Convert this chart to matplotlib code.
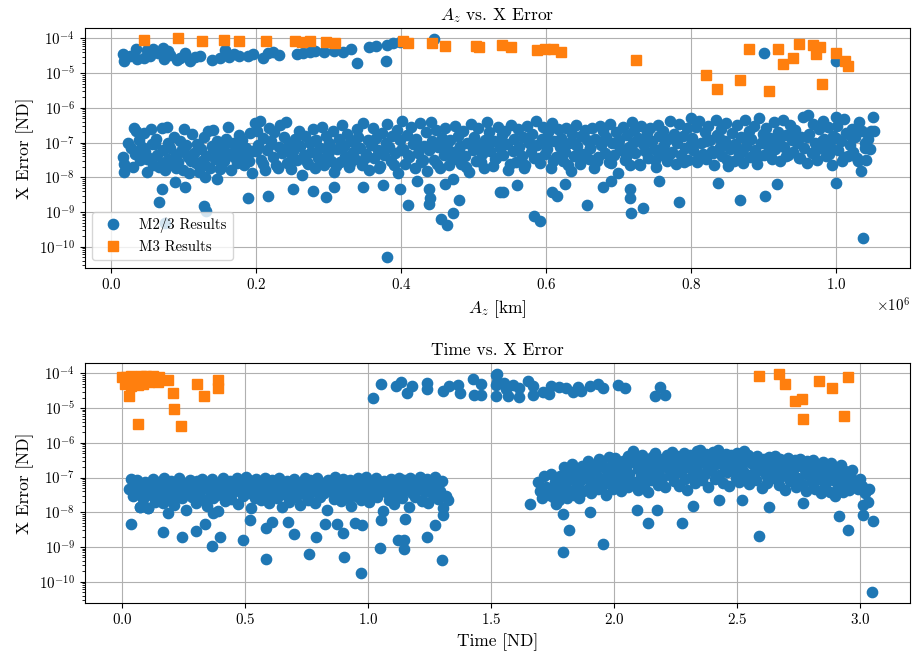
import numpy as np
import matplotlib
matplotlib.use("Agg")
import matplotlib.pyplot as plt

plt.rcParams["font.family"] = "serif"
plt.rcParams["font.serif"] = ["cmr10"]
plt.rcParams["mathtext.fontset"] = "cm"
plt.rcParams["axes.formatter.use_mathtext"] = True
plt.rcParams["axes.unicode_minus"] = False
plt.rcParams["xtick.labelsize"] = 10.8
plt.rcParams["ytick.labelsize"] = 10.8
plt.rcParams["axes.labelsize"] = 12.5
plt.rcParams["axes.titlesize"] = 12.6
plt.rcParams["legend.fontsize"] = 10.6

# ---- M2/3 results: A_z [km] and X error ----
# upper band (large-error runs)
az_m23_band = [17e3, 18e3, 26e3, 35e3, 36e3, 45e3, 49e3, 54e3, 58e3, 65e3,
               72e3, 73e3, 78e3, 81e3, 91e3, 95e3, 102e3, 109e3, 116e3, 123e3,
               139e3, 150e3, 157e3, 162e3, 169e3, 177e3, 189e3, 196e3, 210e3, 217e3,
               224e3, 232e3, 256e3, 265e3, 274e3, 281e3, 293e3, 307e3, 320e3, 331e3,
               339e3, 356e3, 366e3, 379e3, 380e3, 389e3, 399e3, 446e3, 900e3, 999e3]
err_m23_band = [3.5e-5, 2.2e-5, 3.2e-5, 4.9e-5, 2.5e-5, 2.8e-5, 4.6e-5, 3.1e-5, 5.1e-5, 3.7e-5,
                5.4e-5, 2.6e-5, 4.3e-5, 3.3e-5, 2.4e-5, 2.8e-5, 3.7e-5, 2.2e-5, 3.0e-5, 3.2e-5,
                2.4e-5, 2.8e-5, 4.6e-5, 3.0e-5, 3.5e-5, 3.2e-5, 3.2e-5, 3.5e-5, 2.8e-5, 3.7e-5,
                4.2e-5, 3.3e-5, 3.5e-5, 3.7e-5, 4.2e-5, 4.3e-5, 4.0e-5, 4.3e-5, 4.0e-5, 5.1e-5,
                2.0e-5, 5.7e-5, 6.1e-5, 2.3e-5, 6.4e-5, 7.2e-5, 8.0e-5, 9.6e-5, 3.9e-5, 2.3e-5]

# main cloud
az_m23_cloud = [
    17e3, 18e3, 18e3, 24e3, 27e3, 31e3, 34e3, 33e3, 38e3, 40e3,
    43e3, 45e3, 47e3, 50e3, 52e3, 55e3, 57e3, 58e3,
    62e3, 64e3, 66e3, 70e3, 72e3, 74e3, 77e3, 79e3, 79e3,
    82e3, 85e3, 87e3, 89e3, 92e3, 95e3, 97e3, 99e3,
    101e3, 104e3, 106e3, 108e3, 111e3, 114e3, 117e3, 119e3,
    121e3, 124e3, 126e3, 128e3, 131e3, 134e3, 136e3, 139e3,
    141e3, 143e3, 146e3, 149e3, 151e3, 154e3, 156e3, 159e3,
    161e3, 163e3, 166e3, 168e3, 171e3, 174e3, 176e3, 179e3,
    181e3, 183e3, 186e3, 188e3, 191e3, 194e3, 196e3, 199e3,
    201e3, 203e3, 205e3, 207e3, 210e3, 212e3, 215e3, 218e3,
    221e3, 223e3, 225e3, 228e3, 231e3, 233e3, 236e3, 239e3,
    241e3, 243e3, 246e3, 248e3, 251e3, 254e3, 256e3, 259e3,
    261e3, 263e3, 266e3, 268e3, 271e3, 274e3, 276e3, 279e3,
    281e3, 283e3, 286e3, 288e3, 291e3, 294e3, 296e3, 299e3,
    301e3, 303e3, 306e3, 308e3, 311e3, 314e3, 316e3, 319e3,
    321e3, 323e3, 326e3, 328e3, 331e3, 334e3, 336e3, 339e3,
    341e3, 343e3, 346e3, 348e3, 351e3, 354e3, 356e3, 359e3,
    361e3, 363e3, 366e3, 368e3, 371e3, 374e3, 376e3, 379e3,
    381e3, 383e3, 386e3, 388e3, 391e3, 394e3, 396e3, 399e3,
    401e3, 403e3, 406e3, 408e3, 411e3, 414e3, 416e3, 419e3,
    421e3, 423e3, 426e3, 428e3, 431e3, 434e3, 436e3, 439e3,
    441e3, 443e3, 446e3, 448e3, 451e3, 454e3, 456e3, 459e3,
    461e3, 463e3, 466e3, 468e3, 471e3, 474e3, 476e3, 479e3,
    481e3, 483e3, 486e3, 488e3, 491e3, 494e3, 496e3, 499e3,
    501e3, 503e3, 506e3, 508e3, 511e3, 514e3, 516e3, 519e3,
    521e3, 523e3, 526e3, 528e3, 531e3, 534e3, 536e3, 539e3,
    541e3, 543e3, 546e3, 548e3, 551e3, 554e3, 556e3, 559e3,
    561e3, 563e3, 566e3, 568e3, 571e3, 574e3, 576e3, 579e3,
    581e3, 583e3, 586e3, 588e3, 591e3, 594e3, 596e3, 599e3,
    601e3, 603e3, 606e3, 608e3, 611e3, 614e3, 616e3, 619e3,
    621e3, 623e3, 626e3, 628e3, 631e3, 634e3, 636e3, 639e3,
    641e3, 643e3, 646e3, 648e3, 651e3, 654e3, 656e3, 659e3,
    661e3, 663e3, 666e3, 668e3, 671e3, 674e3, 676e3, 679e3,
    681e3, 683e3, 686e3, 688e3, 691e3, 694e3, 696e3, 699e3,
    701e3, 703e3, 706e3, 708e3, 711e3, 714e3, 716e3, 719e3,
    721e3, 723e3, 726e3, 728e3, 731e3, 734e3, 736e3, 739e3,
    741e3, 743e3, 746e3, 748e3, 751e3, 754e3, 756e3, 759e3,
    761e3, 763e3, 766e3, 768e3, 771e3, 774e3, 776e3, 779e3,
    781e3, 783e3, 786e3, 788e3, 791e3, 794e3, 796e3, 799e3,
    801e3, 803e3, 806e3, 808e3, 811e3, 814e3, 816e3, 819e3,
    821e3, 823e3, 826e3, 828e3, 831e3, 834e3, 836e3, 839e3,
    841e3, 843e3, 846e3, 848e3, 851e3, 854e3, 856e3, 859e3,
    861e3, 863e3, 866e3, 868e3, 871e3, 874e3, 876e3, 879e3,
    881e3, 883e3, 886e3, 888e3, 891e3, 894e3, 896e3, 899e3,
    901e3, 903e3, 906e3, 908e3, 911e3, 914e3, 916e3, 919e3,
    921e3, 923e3, 926e3, 928e3, 931e3, 934e3, 936e3, 939e3,
    941e3, 943e3, 946e3, 948e3, 951e3, 954e3, 956e3, 959e3,
    961e3, 963e3, 966e3, 968e3, 971e3, 974e3, 976e3, 979e3,
    981e3, 983e3, 986e3, 988e3, 991e3, 994e3, 996e3, 999e3,
    1001e3, 1003e3, 1006e3, 1008e3, 1011e3, 1014e3, 1016e3, 1019e3,
    1021e3, 1023e3, 1026e3, 1028e3, 1031e3, 1034e3, 1036e3, 1039e3,
    1041e3, 1044e3, 1046e3, 1048e3, 1051e3, 1052e3,
]
err_m23_cloud = [
    3.9e-8, 2.5e-8, 1.4e-8, 9.5e-8, 6.8e-8, 2.7e-7, 2.1e-7, 4.6e-8, 1.2e-7, 3.1e-8,
    7.5e-8, 1.9e-7, 5.2e-8, 1.4e-8, 3.6e-8, 2.4e-7, 9.0e-8, 2.2e-8,
    1.3e-7, 4.4e-8, 2.0e-8, 2.6e-7, 6.1e-8, 1.6e-8, 2.9e-7, 1.0e-7, 3.3e-8,
    7.2e-8, 2.2e-8, 1.5e-7, 4.5e-8, 2.7e-8, 1.1e-7, 5.7e-8, 1.6e-8,
    2.4e-7, 8.4e-8, 3.8e-8, 1.3e-8, 1.8e-7, 5.0e-8, 2.6e-8, 9.2e-8,
    1.4e-8, 6.6e-8, 2.9e-8, 1.5e-7, 4.2e-8, 2.2e-7, 1.9e-8, 8.0e-8,
    2.3e-7, 3.4e-8, 1.1e-7, 5.4e-8, 2.0e-8, 7.7e-8, 3.0e-8, 1.3e-7,
    2.8e-7, 4.7e-8, 1.6e-8, 9.8e-8, 6.0e-8, 2.6e-8, 1.7e-7, 4.0e-8,
    1.2e-7, 2.3e-8, 7.0e-8, 3.5e-8, 1.9e-7, 1.3e-8, 5.6e-8, 3.6e-7,
    2.1e-7, 8.7e-8, 4.3e-7, 3.1e-8, 1.4e-7, 1.6e-8, 6.2e-8, 2.7e-7,
    1.1e-7, 3.9e-8, 2.0e-7, 2.2e-8, 7.4e-8, 3.3e-7, 4.9e-8, 1.5e-7,
    3.9e-7, 2.6e-8, 9.0e-8, 1.7e-8, 5.8e-8, 1.3e-7, 3.2e-8, 2.2e-7,
    7.9e-8, 1.2e-8, 4.4e-8, 1.6e-7, 2.5e-8, 9.6e-8, 5.3e-8, 2.4e-7,
    1.9e-8, 1.2e-7, 3.7e-8, 6.9e-8, 2.8e-7, 2.3e-8, 1.6e-7, 4.6e-8,
    1.0e-7, 3.0e-8, 2.1e-7, 1.4e-8, 6.4e-8, 1.3e-7, 2.7e-8, 3.2e-7,
    8.2e-8, 4.1e-8, 1.8e-7, 2.0e-8, 1.1e-7, 5.5e-8, 3.3e-8, 2.5e-7,
    1.5e-7, 7.1e-8, 2.3e-8, 3.6e-7, 4.8e-8, 1.2e-7, 1.6e-8, 8.8e-8,
    2.6e-7, 3.5e-8, 1.4e-7, 6.3e-8, 2.1e-8, 1.9e-7, 4.3e-8, 1.0e-7,
    3.4e-7, 7.6e-8, 2.9e-8, 1.6e-7, 5.1e-8, 2.3e-7, 1.3e-8, 1.2e-7,
    4.1e-7, 6.7e-8, 2.4e-8, 1.7e-7, 3.9e-8, 2.9e-7, 9.3e-8, 1.8e-8,
    1.3e-7, 5.0e-8, 3.7e-7, 2.7e-8, 8.1e-8, 2.0e-7, 1.5e-8, 6.0e-8,
    4.0e-7, 1.1e-7, 3.2e-8, 2.3e-7, 7.3e-8, 1.9e-8, 1.4e-7, 4.5e-8,
    2.6e-7, 9.0e-8, 2.2e-8, 1.2e-7, 5.2e-8, 3.1e-7, 3.4e-8, 1.6e-7,
    7.8e-8, 2.5e-8, 2.2e-7, 4.2e-8, 1.0e-7, 1.4e-8, 3.4e-7, 6.2e-8,
    1.5e-7, 3.0e-8, 2.6e-7, 8.5e-8, 4.7e-8, 1.8e-8, 1.2e-7, 3.9e-7,
    2.0e-7, 5.6e-8, 2.1e-8, 1.1e-7, 3.5e-8, 2.8e-7, 6.9e-8, 1.7e-7,
    4.3e-8, 2.2e-7, 9.4e-8, 1.6e-8, 3.3e-7, 5.9e-8, 1.3e-7, 2.8e-8,
    2.4e-7, 7.6e-8, 4.0e-8, 1.5e-7, 2.3e-8, 3.1e-7, 1.0e-7, 5.3e-8,
    1.8e-7, 3.6e-8, 4.1e-7, 8.3e-8, 2.6e-8, 1.3e-7, 2.9e-7, 4.8e-8,
    6.4e-8, 2.0e-7, 1.9e-8, 3.6e-7, 1.1e-7, 3.8e-8, 2.4e-7, 7.4e-8,
    1.4e-7, 2.9e-8, 5.5e-8, 2.7e-7, 1.0e-7, 1.5e-8, 1.8e-7, 4.1e-8,
    3.2e-7, 8.0e-8, 2.4e-8, 1.6e-7, 4.6e-8, 2.3e-7, 1.2e-7, 3.3e-8,
    6.8e-8, 2.6e-7, 1.9e-8, 1.3e-7, 3.9e-8, 3.0e-7, 8.6e-8, 2.1e-7,
    5.1e-8, 1.5e-7, 2.7e-8, 3.5e-7, 9.7e-8, 4.4e-8, 2.0e-7, 1.3e-8,
    1.2e-7, 6.1e-8, 2.9e-7, 3.1e-8, 1.7e-7, 7.7e-8, 2.2e-8, 3.8e-7,
    2.3e-7, 4.9e-8, 1.4e-7, 2.5e-8, 3.1e-7, 9.1e-8, 5.8e-8, 1.9e-7,
    3.6e-8, 2.6e-7, 1.1e-7, 6.6e-8, 2.0e-8, 3.3e-7, 1.6e-7, 4.3e-8,
    2.2e-7, 8.4e-8, 3.0e-8, 1.3e-7, 4.2e-7, 5.3e-8, 1.8e-7, 2.4e-8,
    1.0e-7, 3.5e-7, 4.5e-8, 1.6e-7, 7.0e-8, 2.7e-7, 3.2e-8, 5.0e-7,
    1.4e-7, 6.3e-8, 2.9e-7, 2.8e-8, 4.1e-7, 9.5e-8, 4.6e-8, 2.0e-7,
    3.4e-8, 3.0e-7, 1.2e-7, 5.7e-8, 2.3e-8, 4.4e-7, 1.7e-7, 7.3e-8,
    2.4e-7, 4.0e-8, 1.1e-7, 3.7e-7, 2.1e-8, 6.5e-8, 1.9e-7, 3.0e-8,
    8.8e-8, 3.2e-7, 4.8e-8, 1.5e-7, 2.6e-8, 4.6e-7, 7.9e-8, 2.2e-7,
    3.9e-8, 1.3e-7, 3.0e-7, 6.0e-8, 2.5e-8, 5.1e-7, 1.0e-7, 1.8e-7,
    4.4e-8, 2.7e-7, 8.2e-8, 1.4e-7, 3.4e-8, 3.9e-7, 6.4e-8, 2.0e-7,
    1.1e-7, 2.9e-8, 4.6e-7, 7.5e-8, 1.7e-7, 4.3e-8, 3.2e-7, 1.2e-7,
    5.5e-8, 2.3e-7, 9.6e-8, 3.7e-8, 1.5e-7, 5.3e-7, 6.8e-8, 2.6e-8,
    6.3e-7, 1.8e-7, 5.0e-8, 3.5e-7, 1.0e-7, 3.1e-8, 2.4e-7, 7.1e-8,
    4.1e-7, 1.3e-7, 4.2e-8, 2.8e-7, 8.0e-8, 2.2e-8, 1.6e-7, 5.4e-7,
    3.0e-7, 6.0e-8, 1.1e-7, 2.9e-8, 4.8e-7, 1.9e-7, 4.0e-8, 8.5e-8,
    2.5e-7, 5.2e-8, 1.5e-7, 3.5e-8, 3.9e-7, 1.5e-8, 2.1e-7, 7.0e-8,
    3.2e-8, 1.3e-7, 6.5e-8, 2.1e-7, 5.5e-7, 2.2e-7,
]

# denser middle of the cloud
az_m23_mid = [30e3, 50e3, 70e3, 90e3, 110e3, 130e3, 150e3, 170e3, 190e3, 210e3,
              230e3, 250e3, 270e3, 290e3, 310e3, 330e3, 350e3, 370e3, 390e3, 410e3,
              430e3, 450e3, 470e3, 490e3, 510e3, 530e3, 550e3, 570e3, 590e3, 610e3,
              630e3, 650e3, 670e3, 690e3, 710e3, 730e3, 750e3, 770e3, 790e3, 810e3,
              830e3, 850e3, 870e3, 890e3, 910e3, 930e3, 950e3, 970e3, 990e3, 1010e3,
              1030e3,
              40e3, 60e3, 80e3, 100e3, 120e3, 140e3, 160e3, 180e3, 200e3, 220e3,
              240e3, 260e3, 280e3, 300e3, 320e3, 340e3, 360e3, 380e3, 400e3, 420e3,
              440e3, 460e3, 480e3, 500e3, 520e3, 540e3, 560e3, 580e3, 600e3, 620e3,
              640e3, 660e3, 680e3, 700e3, 720e3, 740e3, 760e3, 780e3, 800e3, 820e3,
              840e3, 860e3, 880e3, 900e3, 920e3, 940e3, 960e3, 980e3, 1000e3, 1020e3,
              1040e3]
err_m23_mid = [2.0e-8, 3.4e-8, 2.6e-8, 1.8e-8, 3.0e-8, 2.2e-8, 1.7e-8, 3.8e-8, 2.9e-8, 2.4e-8,
               1.9e-8, 4.1e-8, 2.7e-8, 3.3e-8, 2.1e-8, 2.6e-8, 3.7e-8, 1.8e-8, 2.3e-8, 4.5e-8,
               3.1e-8, 2.5e-8, 3.9e-8, 2.0e-8, 2.8e-8, 3.4e-8, 2.4e-8, 1.9e-8, 3.6e-8, 2.9e-8,
               2.2e-8, 4.0e-8, 3.0e-8, 2.6e-8, 3.8e-8, 2.3e-8, 3.2e-8, 4.4e-8, 2.7e-8, 3.5e-8,
               4.9e-8, 3.1e-8, 5.2e-8, 3.6e-8, 5.5e-8, 4.2e-8, 3.7e-8, 5.8e-8, 4.6e-8, 3.9e-8,
               2.9e-8,
               6.0e-8, 9.0e-8, 7.6e-8, 5.4e-8, 8.4e-8, 6.6e-8, 1.0e-7, 7.0e-8, 5.8e-8, 9.4e-8,
               6.4e-8, 7.8e-8, 1.1e-7, 5.6e-8, 8.8e-8, 6.9e-8, 1.0e-7, 7.3e-8, 6.1e-8, 9.2e-8,
               7.0e-8, 8.2e-8, 6.5e-8, 1.05e-7, 7.4e-8, 9.6e-8, 6.3e-8, 8.6e-8, 1.1e-7, 7.7e-8,
               9.0e-8, 6.8e-8, 1.2e-7, 8.0e-8, 9.8e-8, 1.15e-7, 7.2e-8, 1.25e-7, 9.4e-8, 1.1e-7,
               1.3e-7, 8.9e-8, 1.2e-7, 1.4e-7, 1.0e-7, 1.3e-7, 1.5e-7, 1.1e-7, 1.35e-7, 1.6e-7,
               9.5e-8]

# low-error outliers
az_m23_low = [66e3, 70e3, 74e3, 88e3, 102e3, 128e3, 130e3, 131e3, 146e3, 189e3,
              216e3, 251e3, 279e3, 297e3, 308e3, 348e3, 375e3, 381e3, 398e3, 409e3,
              422e3, 438e3, 438e3, 440e3, 455e3, 460e3, 463e3, 471e3, 472e3, 480e3,
              536e3, 541e3, 560e3, 583e3, 591e3, 608e3, 615e3, 626e3, 656e3, 679e3,
              690e3, 716e3, 716e3, 717e3, 733e3, 755e3, 783e3, 837e3, 867e3, 902e3,
              918e3, 999e3, 1037e3]
err_m23_low = [2.0e-9, 4.7e-9, 4.9e-10, 7.4e-9, 5.2e-9, 1.5e-9, 1.0e-8, 1.1e-9, 8.7e-9, 2.5e-9,
               2.9e-9, 4.7e-9, 4.1e-9, 2.7e-9, 5.3e-9, 5.2e-9, 5.9e-9, 5.2e-11, 4.7e-9, 1.6e-9,
               7.6e-9, 4.7e-9, 1.7e-9, 2.5e-9, 6.2e-10, 6.6e-9, 4.3e-10, 9.1e-9, 9.6e-10, 2.2e-9,
               3.8e-9, 3.8e-9, 6.2e-9, 7.6e-10, 5.4e-10, 3.8e-9, 3.0e-9, 6.6e-9, 1.6e-9, 5.2e-9,
               7.6e-9, 4.7e-9, 2.5e-9, 9.6e-10, 1.3e-9, 8.1e-9, 2.0e-9, 7.1e-9, 2.2e-9, 3.0e-9,
               6.6e-9, 7.1e-9, 1.8e-10]

# ---- M3 results: A_z [km] and X error ----
az_m3 = [46e3, 92e3, 125e3, 156e3, 176e3, 214e3, 253e3, 263e3, 274e3, 296e3,
         309e3, 403e3, 409e3, 442e3, 461e3, 503e3, 508e3, 539e3, 551e3, 587e3,
         599e3, 610e3, 620e3, 724e3, 820e3, 835e3, 867e3, 880e3, 907e3, 920e3,
         927e3, 940e3, 948e3, 968e3, 977e3, 972e3, 980e3, 1000e3, 1012e3, 1016e3]
err_m3_az = [8.9e-5, 1.0e-4, 8.7e-5, 8.9e-5, 8.7e-5, 8.3e-5, 8.3e-5, 8.1e-5, 8.3e-5, 7.9e-5,
             7.6e-5, 8.7e-5, 7.2e-5, 7.2e-5, 6.2e-5, 6.2e-5, 5.8e-5, 6.5e-5, 5.5e-5, 4.8e-5,
             5.1e-5, 4.9e-5, 4.1e-5, 2.4e-5, 9.1e-6, 3.6e-6, 6.2e-6, 5.0e-5, 3.0e-6, 4.9e-5,
             1.8e-5, 2.8e-5, 6.9e-5, 6.3e-5, 5.8e-5, 3.5e-5, 5.0e-6, 3.7e-5, 2.3e-5, 1.6e-5]

# ---- M2/3 results: time [ND] and X error ----
t_m23_band = [1.019, 1.053, 1.112, 1.135, 1.159, 1.179, 1.240, 1.240, 1.304, 1.331,
              1.365, 1.372, 1.426, 1.432, 1.460, 1.460, 1.520, 1.520, 1.520, 1.524,
              1.526, 1.554, 1.561, 1.568, 1.588, 1.615, 1.615, 1.649, 1.669, 1.669,
              1.710, 1.737, 1.744, 1.778, 1.805, 1.832, 1.852, 1.866, 1.900, 1.933,
              1.954, 2.015, 2.046, 2.164, 2.187, 2.208]
err_t_band = [2.0e-5, 4.9e-5, 4.3e-5, 5.7e-5, 2.8e-5, 4.2e-5, 5.4e-5, 3.5e-5, 3.2e-5, 4.3e-5,
              4.6e-5, 2.8e-5, 6.7e-5, 2.4e-5, 4.9e-5, 2.4e-5, 8.9e-5, 4.6e-5, 2.2e-5, 9.6e-5,
              5.7e-5, 5.4e-5, 3.5e-5, 2.2e-5, 4.6e-5, 2.1e-5, 3.7e-5, 6.1e-5, 2.4e-5, 4.2e-5,
              3.0e-5, 2.6e-5, 4.2e-5, 4.0e-5, 3.7e-5, 3.0e-5, 4.0e-5, 3.2e-5, 4.3e-5, 5.1e-5,
              3.7e-5, 4.6e-5, 3.7e-5, 2.3e-5, 4.0e-5, 2.4e-5]

# first arc (t < 1.35)
t_m23_arc1 = [
    0.030, 0.038, 0.045, 0.052, 0.060, 0.066, 0.074, 0.080, 0.088, 0.095, 0.100, 0.108,
    0.114, 0.120, 0.128, 0.134, 0.141, 0.148, 0.154, 0.160, 0.166, 0.172, 0.180, 0.186,
    0.192, 0.198, 0.205, 0.212, 0.220, 0.226, 0.232, 0.238, 0.245, 0.252, 0.260, 0.266,
    0.272, 0.278, 0.285, 0.292, 0.300, 0.306, 0.312, 0.318, 0.325, 0.332, 0.340, 0.346,
    0.352, 0.358, 0.365, 0.372, 0.380, 0.386, 0.392, 0.398, 0.405, 0.412, 0.420, 0.426,
    0.432, 0.438, 0.445, 0.452, 0.460, 0.466, 0.472, 0.478, 0.485, 0.492, 0.500, 0.506,
    0.512, 0.518, 0.525, 0.532, 0.540, 0.546, 0.552, 0.558, 0.565, 0.572, 0.580, 0.586,
    0.592, 0.598, 0.605, 0.612, 0.620, 0.626, 0.632, 0.638, 0.645, 0.652, 0.660, 0.666,
    0.672, 0.678, 0.685, 0.692, 0.700, 0.706, 0.712, 0.718, 0.725, 0.732, 0.740, 0.746,
    0.752, 0.758, 0.765, 0.772, 0.780, 0.786, 0.792, 0.798, 0.805, 0.812, 0.820, 0.826,
    0.832, 0.838, 0.845, 0.852, 0.860, 0.866, 0.872, 0.878, 0.885, 0.892, 0.900, 0.906,
    0.912, 0.918, 0.925, 0.932, 0.940, 0.946, 0.952, 0.958, 0.965, 0.972, 0.980, 0.986,
    0.992, 0.998, 1.005, 1.012, 1.020, 1.026, 1.032, 1.038, 1.045, 1.052, 1.060, 1.066,
    1.072, 1.078, 1.085, 1.092, 1.100, 1.106, 1.112, 1.118, 1.125, 1.132, 1.140, 1.146,
    1.152, 1.158, 1.165, 1.172, 1.180, 1.186, 1.192, 1.198, 1.205, 1.212, 1.220, 1.226,
    1.232, 1.238, 1.245, 1.252, 1.260, 1.266, 1.272, 1.278, 1.285, 1.292, 1.300, 1.306,
    1.315, 1.324,
]
err_t_arc1 = [
    4.8e-8, 9.2e-8, 2.9e-8, 6.5e-8, 8.8e-8, 3.8e-8, 1.4e-8, 5.1e-8, 2.4e-8, 7.3e-8, 4.0e-8, 1.3e-8,
    6.0e-8, 3.1e-8, 9.0e-8, 2.0e-8, 4.6e-8, 7.6e-8, 2.7e-8, 5.6e-8, 1.9e-8, 9.5e-8, 3.5e-8, 6.7e-8,
    2.2e-8, 8.2e-8, 4.3e-8, 1.6e-8, 6.2e-8, 3.0e-8, 9.8e-8, 4.9e-8, 2.5e-8, 7.0e-8, 1.2e-8, 3.7e-8,
    5.8e-8, 8.6e-8, 2.8e-8, 4.4e-8, 1.8e-8, 7.9e-8, 3.3e-8, 6.4e-8, 9.3e-8, 2.3e-8, 5.0e-8, 1.5e-8,
    7.4e-8, 3.9e-8, 8.9e-8, 2.6e-8, 5.5e-8, 3.2e-8, 1.1e-8, 6.9e-8, 4.5e-8, 9.7e-8, 2.1e-8, 5.9e-8,
    3.4e-8, 8.0e-8, 2.4e-8, 6.3e-8, 4.1e-8, 1.0e-7, 1.7e-8, 5.3e-8, 7.7e-8, 2.9e-8, 4.7e-8, 1.03e-7,
    3.6e-8, 8.5e-8, 1.3e-8, 6.1e-8, 2.6e-8, 9.4e-8, 4.2e-8, 7.1e-8, 2.2e-8, 5.2e-8, 9.9e-8, 3.0e-8,
    6.6e-8, 1.9e-8, 4.8e-8, 8.7e-8, 3.3e-8, 5.7e-8, 2.5e-8, 9.6e-8, 4.0e-8, 1.4e-8, 6.8e-8, 3.1e-8,
    8.1e-8, 2.0e-8, 5.4e-8, 3.7e-8, 9.1e-8, 2.7e-8, 6.0e-8, 4.4e-8, 1.6e-8, 7.5e-8, 3.4e-8, 1.0e-7,
    5.0e-8, 2.3e-8, 8.3e-8, 3.9e-8, 6.4e-8, 1.8e-8, 9.8e-8, 4.6e-8, 2.8e-8, 7.2e-8, 3.5e-8, 5.6e-8,
    1.2e-8, 8.8e-8, 4.2e-8, 6.5e-8, 2.4e-8, 1.01e-7, 3.2e-8, 7.8e-8, 5.2e-8, 2.1e-8, 9.0e-8, 4.0e-8,
    6.1e-8, 2.6e-8, 8.4e-8, 1.5e-8, 4.7e-8, 7.0e-8, 3.0e-8, 9.5e-8, 5.5e-8, 2.2e-8, 6.9e-8, 3.6e-8,
    1.02e-7, 4.4e-8, 2.0e-8, 7.4e-8, 3.3e-8, 5.8e-8, 9.7e-8, 2.7e-8, 6.3e-8, 4.1e-8, 1.1e-8, 8.0e-8,
    3.8e-8, 5.9e-8, 2.3e-8, 9.2e-8, 4.5e-8, 1.7e-8, 7.1e-8, 3.1e-8, 1.0e-7, 5.0e-8, 2.5e-8, 8.6e-8,
    4.3e-8, 6.7e-8, 1.4e-8, 9.9e-8, 3.5e-8, 5.6e-8, 2.8e-8, 8.1e-8, 4.6e-8, 1.03e-7, 2.1e-8, 6.2e-8,
    3.9e-8, 9.4e-8, 1.9e-8, 5.4e-8, 7.6e-8, 3.2e-8, 1.02e-7, 6.0e-8, 2.4e-8, 4.2e-8, 7.9e-8, 1.3e-8,
    3.0e-8, 2.3e-8,
]

# second arc (t > 1.65)
t_m23_arc2 = [
    1.690, 1.700, 1.705, 1.715, 1.725, 1.735,
    1.742, 1.746, 1.752, 1.758, 1.765, 1.772, 1.778,
    1.782, 1.788, 1.795, 1.802, 1.808, 1.815, 1.818,
    1.822, 1.828, 1.835, 1.842, 1.848, 1.855, 1.858,
    1.862, 1.868, 1.875, 1.882, 1.888, 1.895, 1.898,
    1.902, 1.908, 1.915, 1.922, 1.928, 1.935, 1.938,
    1.942, 1.948, 1.955, 1.962, 1.968, 1.975, 1.978,
    1.982, 1.988, 1.995, 2.002, 2.008, 2.015, 2.018,
    2.022, 2.028, 2.035, 2.042, 2.048, 2.055, 2.058,
    2.062, 2.068, 2.075, 2.082, 2.088, 2.095, 2.098,
    2.102, 2.108, 2.115, 2.122, 2.128, 2.135, 2.138,
    2.142, 2.148, 2.155, 2.162, 2.168, 2.175, 2.178,
    2.182, 2.188, 2.195, 2.202, 2.208, 2.215, 2.218,
    2.222, 2.228, 2.235, 2.242, 2.248, 2.255, 2.258,
    2.262, 2.268, 2.275, 2.282, 2.288, 2.295, 2.298,
    2.302, 2.308, 2.315, 2.322, 2.328, 2.335, 2.338,
    2.342, 2.348, 2.355, 2.362, 2.368, 2.375, 2.378,
    2.382, 2.388, 2.395, 2.402, 2.408, 2.415, 2.418,
    2.422, 2.428, 2.435, 2.442, 2.448, 2.455, 2.458,
    2.462, 2.468, 2.475, 2.482, 2.488, 2.495, 2.498,
    2.502, 2.508, 2.515, 2.522, 2.528, 2.535, 2.538,
    2.542, 2.548, 2.555, 2.562, 2.568, 2.575, 2.578,
    2.582, 2.588, 2.595, 2.602, 2.608, 2.615, 2.618,
    2.622, 2.628, 2.635, 2.642, 2.648, 2.655, 2.658,
    2.662, 2.668, 2.675, 2.682, 2.688, 2.695, 2.698,
    2.702, 2.708, 2.715, 2.722, 2.728, 2.735, 2.738,
    2.742, 2.748, 2.755, 2.762, 2.768, 2.775, 2.778,
    2.782, 2.788, 2.795, 2.802, 2.808, 2.815, 2.818,
    2.822, 2.828, 2.835, 2.842, 2.848, 2.855, 2.858,
    2.862, 2.868, 2.875, 2.882, 2.888, 2.895, 2.898,
    2.902, 2.908, 2.915, 2.922, 2.928, 2.935, 2.938,
    2.942, 2.948, 2.955, 2.962, 2.968, 2.975, 2.978,
    2.983, 2.990, 2.998, 3.005, 3.013, 3.020, 3.034, 3.030,
]
err_t_arc2 = [
    7.3e-8, 4.0e-8, 2.6e-8, 1.1e-7, 5.3e-8, 3.1e-8,
    1.3e-7, 4.5e-8, 2.8e-8, 7.5e-8, 1.7e-8, 5.6e-8, 2.2e-8,
    1.1e-7, 3.6e-8, 2.0e-7, 6.7e-8, 2.6e-8, 1.4e-7, 4.4e-8,
    9.0e-8, 2.4e-7, 3.2e-8, 1.7e-7, 5.8e-8, 1.2e-7, 2.5e-8,
    7.9e-8, 2.1e-7, 4.2e-8, 1.5e-7, 9.6e-8, 3.0e-7, 5.1e-8,
    1.3e-7, 3.5e-8, 2.3e-7, 7.1e-8, 1.7e-7, 4.6e-8, 3.4e-7,
    1.0e-7, 2.7e-7, 6.0e-8, 1.9e-7, 3.1e-8, 1.4e-7, 3.9e-7,
    8.3e-8, 2.2e-7, 4.8e-8, 3.6e-7, 1.2e-7, 6.6e-8, 2.6e-7,
    1.6e-7, 4.1e-8, 3.0e-7, 9.3e-8, 2.0e-7, 5.5e-8, 4.3e-7,
    1.3e-7, 2.8e-7, 5.9e-7, 7.6e-8, 3.7e-7, 1.8e-7, 4.5e-8,
    2.4e-7, 1.1e-7, 4.6e-7, 6.3e-8, 3.2e-7, 1.5e-7, 3.9e-8,
    2.1e-7, 8.8e-8, 4.0e-7, 1.3e-7, 5.1e-7, 2.7e-7, 6.2e-8,
    1.6e-7, 3.5e-7, 9.9e-8, 2.3e-7, 5.3e-8, 4.4e-7, 1.9e-7,
    3.0e-7, 1.2e-7, 5.5e-7, 7.9e-8, 2.5e-7, 4.1e-7, 1.4e-7,
    5.8e-8, 3.3e-7, 1.7e-7, 5.0e-7, 9.4e-8, 2.8e-7, 4.3e-8,
    2.0e-7, 4.6e-7, 1.1e-7, 3.4e-7, 6.8e-8, 5.7e-7, 1.5e-7,
    2.6e-7, 6.1e-7, 8.3e-8, 3.9e-7, 1.3e-7, 4.8e-7, 2.2e-7,
    5.2e-8, 3.1e-7, 1.6e-7, 5.4e-7, 9.2e-8, 2.4e-7, 4.2e-7,
    6.3e-7, 1.2e-7, 3.6e-7, 7.2e-8, 2.1e-7, 4.9e-7, 1.4e-7,
    2.9e-7, 5.6e-8, 4.4e-7, 1.8e-7, 3.3e-7, 1.0e-7, 5.0e-7,
    2.3e-7, 7.7e-8, 4.0e-7, 1.5e-7, 5.8e-7, 3.0e-7, 1.1e-7,
    4.6e-7, 6.4e-8, 2.6e-7, 1.3e-7, 3.7e-7, 8.6e-8, 2.0e-7,
    4.3e-7, 1.6e-7, 2.8e-7, 5.1e-8, 3.4e-7, 1.2e-7, 2.2e-7,
    7.0e-8, 3.9e-7, 1.7e-7, 2.9e-7, 9.7e-8, 4.1e-7, 1.4e-7,
    2.5e-7, 6.0e-8, 3.5e-7, 1.1e-7, 2.0e-7, 4.4e-8, 3.1e-7,
    1.5e-7, 3.7e-7, 8.1e-8, 2.4e-7, 1.3e-7, 3.2e-7, 5.5e-8,
    2.1e-7, 1.0e-7, 3.4e-7, 6.6e-8, 2.7e-7, 1.6e-7, 4.1e-8,
    3.0e-7, 1.2e-7, 2.2e-7, 7.4e-8, 3.3e-7, 1.4e-7, 4.8e-8,
    2.5e-7, 9.0e-8, 1.8e-7, 3.6e-8, 2.9e-7, 1.1e-7, 6.2e-8,
    2.2e-7, 1.3e-7, 3.9e-8, 2.6e-7, 8.4e-8, 1.6e-7, 2.9e-8,
    1.9e-7, 5.6e-8, 1.2e-7, 2.3e-7, 3.8e-8, 9.5e-8, 1.5e-7,
    6.5e-8, 1.3e-7, 4.3e-8, 1.0e-7, 1.7e-7, 5.2e-8, 7.9e-8,
    7.4e-8, 4.6e-8, 9.0e-8, 5.8e-8, 1.6e-8, 3.5e-8, 4.8e-8, 2.0e-8,
]

# low-error outliers
t_m23_low = [0.038, 0.074, 0.108, 0.167, 0.187, 0.245, 0.302, 0.336, 0.367, 0.370,
             0.397, 0.491, 0.519, 0.584, 0.584, 0.611, 0.674, 0.701, 0.760, 0.789,
             0.827, 0.873, 0.898, 0.904, 0.949, 0.972, 0.976, 1.047, 1.053, 1.121,
             1.148, 1.148, 1.152, 1.240, 1.274, 1.301, 1.304,
             1.659, 1.794, 1.794, 1.818, 1.900, 1.954, 2.093, 2.136, 2.174, 2.276,
             2.319, 2.428, 2.520, 2.590, 2.631, 2.769, 2.913, 2.949, 3.010, 3.050,
             3.048]
err_t_low = [4.5e-9, 1.4e-8, 1.35e-8, 2.7e-9, 9.5e-9, 1.9e-9, 2.9e-9, 4.7e-9, 1.1e-9, 9.5e-9,
             2.0e-9, 1.6e-9, 6.2e-9, 4.6e-10, 3.6e-9, 5.2e-9, 5.2e-9, 2.4e-9, 6.2e-10, 2.0e-9,
             4.7e-9, 4.7e-9, 2.5e-9, 5.1e-10, 4.9e-9, 1.8e-10, 4.2e-9, 9.6e-10, 6.2e-9, 1.55e-9,
             1.55e-9, 8.9e-10, 6.6e-9, 1.95e-9, 4.2e-9, 4.3e-10, 8.1e-9,
             1.7e-8, 8.7e-9, 7.2e-10, 3.0e-9, 1.0e-8, 1.2e-9, 1.15e-8, 5.0e-9, 1.2e-8, 5.0e-9,
             1.5e-8, 2.3e-8, 2.2e-8, 2.1e-9, 1.4e-8, 1.8e-8, 7.9e-9, 3.0e-9, 8.5e-9, 5.6e-9,
             5.0e-11]

# ---- M3 results: time [ND] and X error ----
t_m3 = [0.000, 0.018, 0.038, 0.058, 0.079, 0.099, 0.126, 0.153, 0.187, 0.011,
        0.038, 0.065, 0.085, 0.112, 0.146, 0.031, 0.207, 0.210, 0.305, 0.333,
        0.390, 0.390, 0.065, 0.241, 2.590, 2.671, 2.696, 2.736, 2.762, 2.766,
        2.833, 2.885, 2.935, 2.949]
err_m3_t = [7.9e-5, 7.9e-5, 8.3e-5, 7.9e-5, 8.3e-5, 8.3e-5, 8.5e-5, 7.9e-5, 6.5e-5, 5.1e-5,
            4.4e-5, 4.6e-5, 5.1e-5, 5.8e-5, 5.8e-5, 2.3e-5, 2.8e-5, 9.3e-6, 4.9e-5, 2.2e-5,
            6.5e-5, 3.7e-5, 3.5e-6, 3.0e-6, 8.5e-5, 9.5e-5, 4.9e-5, 1.6e-5, 1.8e-5, 5.0e-6,
            5.9e-5, 3.7e-5, 6.0e-6, 8.1e-5]

az_m23 = np.concatenate([az_m23_band, az_m23_cloud, az_m23_mid, az_m23_low])
err_m23_az = np.concatenate([err_m23_band, err_m23_cloud, err_m23_mid, err_m23_low])
t_m23 = np.concatenate([t_m23_band, t_m23_arc1, t_m23_arc2, t_m23_low])
err_m23_t = np.concatenate([err_t_band, err_t_arc1, err_t_arc2, err_t_low])

fig, (ax1, ax2) = plt.subplots(2, 1, figsize=(9.13, 6.6), dpi=100)
fig.subplots_adjust(left=0.093, right=0.997, top=0.957, bottom=0.087, hspace=0.40)

ms = 7.4
ax1.semilogy(az_m23, err_m23_az, "o", color="C0", ms=ms, label="M2/3 Results")
ax1.semilogy(az_m3, err_m3_az, "s", color="C1", ms=ms, label="M3 Results")
ax1.set_title("$A_z$ vs. X Error")
ax1.set_xlabel("$A_z$ [km]")
ax1.set_ylabel("X Error [ND]")
ax1.set_xlim(-0.036e6, 1.102e6)
ax1.set_ylim(10**-10.6, 10**-3.71)
ax1.grid(True)
ax1.legend(loc="lower left")

ax2.semilogy(t_m23, err_m23_t, "o", color="C0", ms=ms, label="M2/3 Results")
ax2.semilogy(t_m3, err_m3_t, "s", color="C1", ms=ms, label="M3 Results")
ax2.set_title("Time vs. X Error")
ax2.set_xlabel("Time [ND]")
ax2.set_ylabel("X Error [ND]")
ax2.set_xlim(-0.15, 3.203)
ax2.set_ylim(10**-10.6, 10**-3.71)
ax2.grid(True)

for ax in (ax1, ax2):
    ax.set_yticks([1e-10, 1e-9, 1e-8, 1e-7, 1e-6, 1e-5, 1e-4])

fig.savefig("out.png", dpi=100)
